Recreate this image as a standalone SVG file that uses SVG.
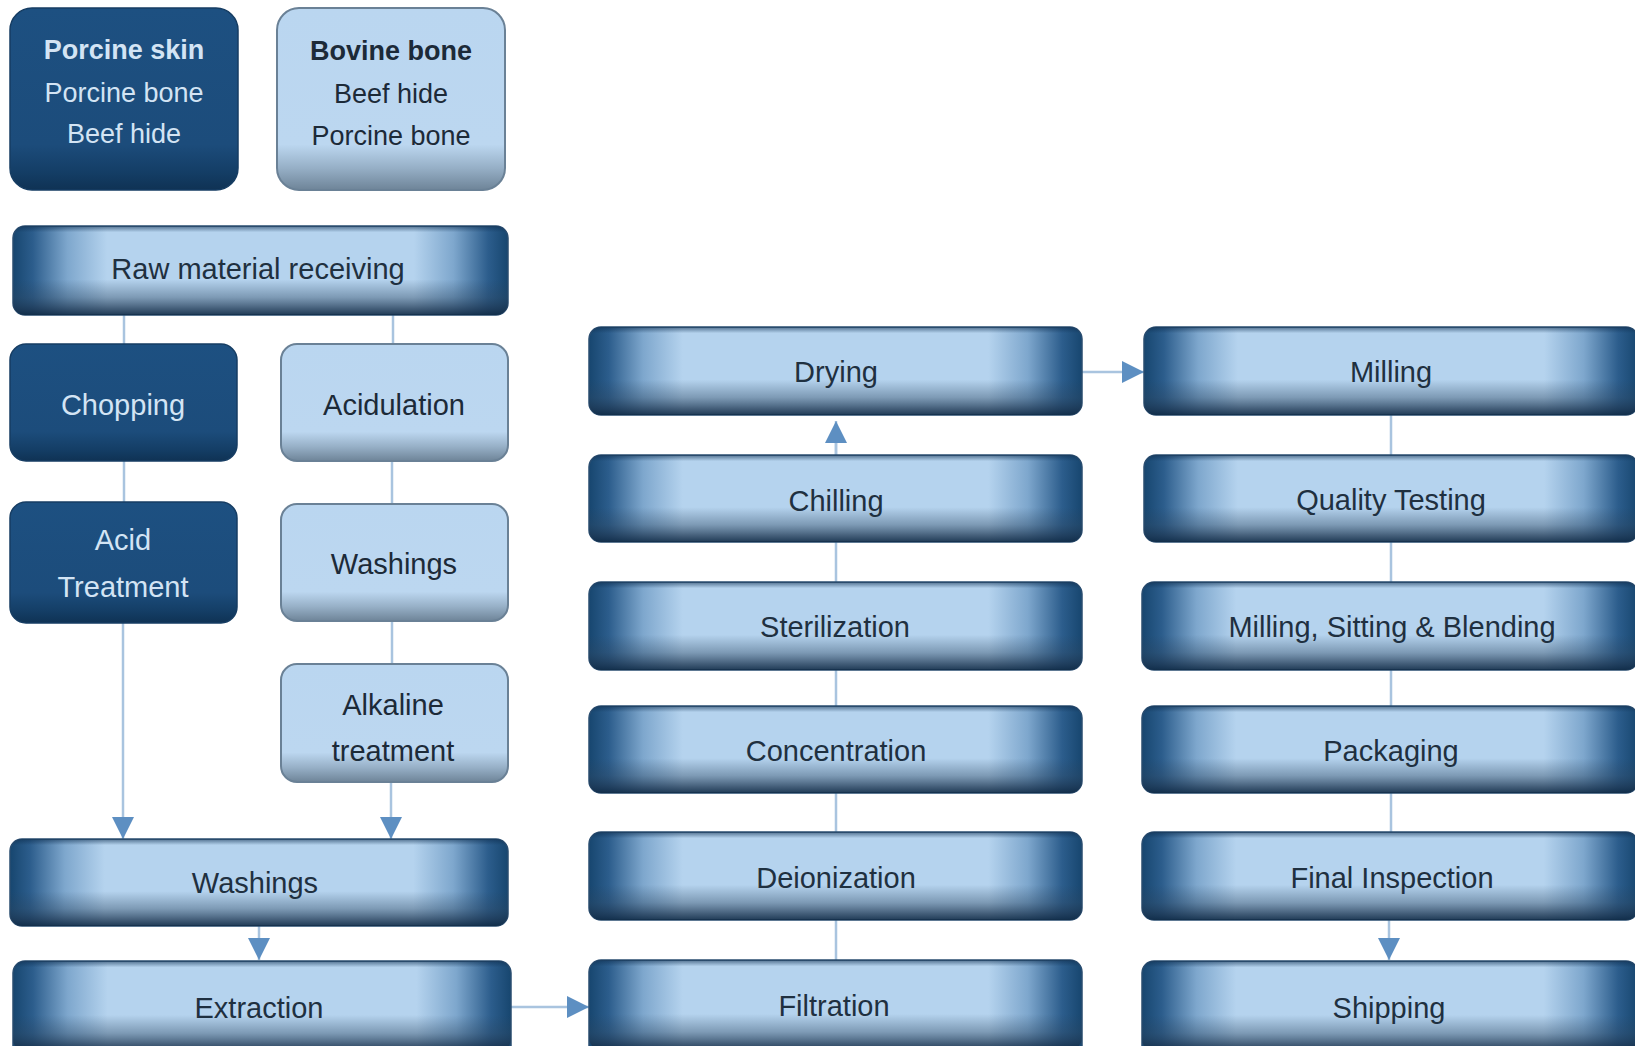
<svg xmlns="http://www.w3.org/2000/svg" width="1635" height="1046" viewBox="0 0 1635 1046">
<defs>
<linearGradient id="hg" x1="0" y1="0" x2="1" y2="0">
<stop offset="0" stop-color="#17466f"/>
<stop offset="0.04" stop-color="#2c5d8c"/>
<stop offset="0.11" stop-color="#7ea7cd"/>
<stop offset="0.19" stop-color="#b5d3ee"/>
<stop offset="0.81" stop-color="#b5d3ee"/>
<stop offset="0.89" stop-color="#7ea7cd"/>
<stop offset="0.96" stop-color="#2c5d8c"/>
<stop offset="1" stop-color="#17466f"/>
</linearGradient>
<linearGradient id="vg" x1="0" y1="0" x2="0" y2="1">
<stop offset="0" stop-color="#0f2f50" stop-opacity="0.6"/>
<stop offset="0.07" stop-color="#0f2f50" stop-opacity="0"/>
<stop offset="0.6" stop-color="#2a4560" stop-opacity="0"/>
<stop offset="0.8" stop-color="#2a4560" stop-opacity="0.4"/>
<stop offset="0.93" stop-color="#1c3550" stop-opacity="0.75"/>
<stop offset="1" stop-color="#0f2a45" stop-opacity="0.9"/>
</linearGradient>
<linearGradient id="dg" x1="0" y1="0" x2="0" y2="1">
<stop offset="0" stop-color="#1d5081"/>
<stop offset="0.75" stop-color="#1c4c7b"/>
<stop offset="0.9" stop-color="#143e66"/>
<stop offset="1" stop-color="#0f3254"/>
</linearGradient>
<linearGradient id="lg" x1="0" y1="0" x2="0" y2="1">
<stop offset="0" stop-color="#bad6f0"/>
<stop offset="0.75" stop-color="#bcd7f0"/>
<stop offset="0.88" stop-color="#96afc6"/>
<stop offset="1" stop-color="#6e8498"/>
</linearGradient>
<marker id="ah" viewBox="0 0 10 10" refX="10" refY="5" markerUnits="userSpaceOnUse" markerWidth="22" markerHeight="22" orient="auto">
<path d="M0,0 L10,5 L0,10 z" fill="#5d8fc2"/>
</marker>
</defs>
<style>
.wb{fill:url(#hg);stroke:#2a4d70;stroke-width:1.5}
.ws{fill:url(#vg)}
.db{fill:url(#dg);stroke:#163d63;stroke-width:1.5}
.lb{fill:url(#lg);stroke:#6a8196;stroke-width:2}
.t{font-family:"Liberation Sans",Arial,sans-serif;font-size:29px;text-anchor:middle;fill:#1f3040}
.tl{font-family:"Liberation Sans",Arial,sans-serif;font-size:27px;text-anchor:middle;fill:#d3e4f4}
.td{font-family:"Liberation Sans",Arial,sans-serif;font-size:27px;text-anchor:middle;fill:#1c2a38}
.s{font-size:29px}
.b{font-weight:bold}
.c{stroke:#a9c4df;stroke-width:2.5;fill:none}
.ca{stroke:#a9c4df;stroke-width:2.5;fill:none;marker-end:url(#ah)}
</style>
<rect width="1635" height="1046" fill="#ffffff"/>
<g id="connectors">
<line class="c" x1="124" y1="315" x2="124" y2="344"/>
<line class="c" x1="124" y1="461" x2="124" y2="502"/>
<line class="ca" x1="123" y1="622" x2="123" y2="839"/>
<line class="c" x1="393" y1="315" x2="393" y2="344"/>
<line class="c" x1="392" y1="461" x2="392" y2="504"/>
<line class="c" x1="392" y1="621" x2="392" y2="664"/>
<line class="ca" x1="391" y1="782" x2="391" y2="839"/>
<line class="ca" x1="259" y1="926" x2="259" y2="960"/>
<line class="ca" x1="511" y1="1007" x2="589" y2="1007"/>
<line class="c" x1="836" y1="1046" x2="836" y2="440"/>
<line class="ca" x1="836" y1="455" x2="836" y2="421"/>
<line class="ca" x1="1082" y1="372" x2="1144" y2="372"/>
<line class="c" x1="1391" y1="415" x2="1391" y2="920"/>
<line class="ca" x1="1389" y1="920" x2="1389" y2="960"/>
</g>
<g id="porcine-skin">
<rect class="db" x="10" y="8" width="228" height="182" rx="22"/>
<text class="tl b" x="124" y="59">Porcine skin</text>
<text class="tl" x="124" y="102">Porcine bone</text>
<text class="tl" x="124" y="143">Beef hide</text>
</g>
<g id="bovine-bone">
<rect class="lb" x="277" y="8" width="228" height="182" rx="22"/>
<text class="td b" x="391" y="60">Bovine bone</text>
<text class="td" x="391" y="103">Beef hide</text>
<text class="td" x="391" y="145">Porcine bone</text>
</g>
<g id="raw-material">
<rect class="wb" x="13" y="226" width="495" height="89" rx="12"/>
<rect class="ws" x="13" y="226" width="495" height="89" rx="12"/>
<text class="t" x="258" y="279">Raw material receiving</text>
</g>
<g id="chopping">
<rect class="db" x="10" y="344" width="227" height="117" rx="16"/>
<text class="tl s" x="123" y="415">Chopping</text>
</g>
<g id="acid-treatment">
<rect class="db" x="10" y="502" width="227" height="121" rx="16"/>
<text class="tl s" x="123" y="550">Acid</text>
<text class="tl s" x="123" y="597">Treatment</text>
</g>
<g id="acidulation">
<rect class="lb" x="281" y="344" width="227" height="117" rx="16"/>
<text class="td s" x="394" y="415">Acidulation</text>
</g>
<g id="washings-1">
<rect class="lb" x="281" y="504" width="227" height="117" rx="16"/>
<text class="td s" x="394" y="574">Washings</text>
</g>
<g id="alkaline">
<rect class="lb" x="281" y="664" width="227" height="118" rx="16"/>
<text class="td s" x="393" y="715">Alkaline</text>
<text class="td s" x="393" y="761">treatment</text>
</g>
<g id="washings-2">
<rect class="wb" x="10" y="839" width="498" height="87" rx="12"/>
<rect class="ws" x="10" y="839" width="498" height="87" rx="12"/>
<text class="t" x="255" y="893">Washings</text>
</g>
<g id="extraction">
<rect class="wb" x="13" y="961" width="498" height="100" rx="12"/>
<rect class="ws" x="13" y="961" width="498" height="90" rx="12"/>
<text class="t" x="259" y="1018">Extraction</text>
</g>
<g id="drying">
<rect class="wb" x="589" y="327" width="493" height="88" rx="12"/>
<rect class="ws" x="589" y="327" width="493" height="88" rx="12"/>
<text class="t" x="836" y="382">Drying</text>
</g>
<g id="chilling">
<rect class="wb" x="589" y="455" width="493" height="87" rx="12"/>
<rect class="ws" x="589" y="455" width="493" height="87" rx="12"/>
<text class="t" x="836" y="511">Chilling</text>
</g>
<g id="sterilization">
<rect class="wb" x="589" y="582" width="493" height="88" rx="12"/>
<rect class="ws" x="589" y="582" width="493" height="88" rx="12"/>
<text class="t" x="835" y="637">Sterilization</text>
</g>
<g id="concentration">
<rect class="wb" x="589" y="706" width="493" height="87" rx="12"/>
<rect class="ws" x="589" y="706" width="493" height="87" rx="12"/>
<text class="t" x="836" y="761">Concentration</text>
</g>
<g id="deionization">
<rect class="wb" x="589" y="832" width="493" height="88" rx="12"/>
<rect class="ws" x="589" y="832" width="493" height="88" rx="12"/>
<text class="t" x="836" y="888">Deionization</text>
</g>
<g id="filtration">
<rect class="wb" x="589" y="960" width="493" height="100" rx="12"/>
<rect class="ws" x="589" y="960" width="493" height="90" rx="12"/>
<text class="t" x="834" y="1016">Filtration</text>
</g>
<g id="milling">
<rect class="wb" x="1144" y="327" width="494" height="88" rx="12"/>
<rect class="ws" x="1144" y="327" width="494" height="88" rx="12"/>
<text class="t" x="1391" y="382">Milling</text>
</g>
<g id="quality-testing">
<rect class="wb" x="1144" y="455" width="494" height="87" rx="12"/>
<rect class="ws" x="1144" y="455" width="494" height="87" rx="12"/>
<text class="t" x="1391" y="510">Quality Testing</text>
</g>
<g id="milling-sitting-blending">
<rect class="wb" x="1142" y="582" width="496" height="88" rx="12"/>
<rect class="ws" x="1142" y="582" width="496" height="88" rx="12"/>
<text class="t" x="1392" y="637">Milling, Sitting &amp; Blending</text>
</g>
<g id="packaging">
<rect class="wb" x="1142" y="706" width="496" height="87" rx="12"/>
<rect class="ws" x="1142" y="706" width="496" height="87" rx="12"/>
<text class="t" x="1391" y="761">Packaging</text>
</g>
<g id="final-inspection">
<rect class="wb" x="1142" y="832" width="496" height="88" rx="12"/>
<rect class="ws" x="1142" y="832" width="496" height="88" rx="12"/>
<text class="t" x="1392" y="888">Final Inspection</text>
</g>
<g id="shipping">
<rect class="wb" x="1142" y="961" width="496" height="100" rx="12"/>
<rect class="ws" x="1142" y="961" width="496" height="90" rx="12"/>
<text class="t" x="1389" y="1018">Shipping</text>
</g>
</svg>
